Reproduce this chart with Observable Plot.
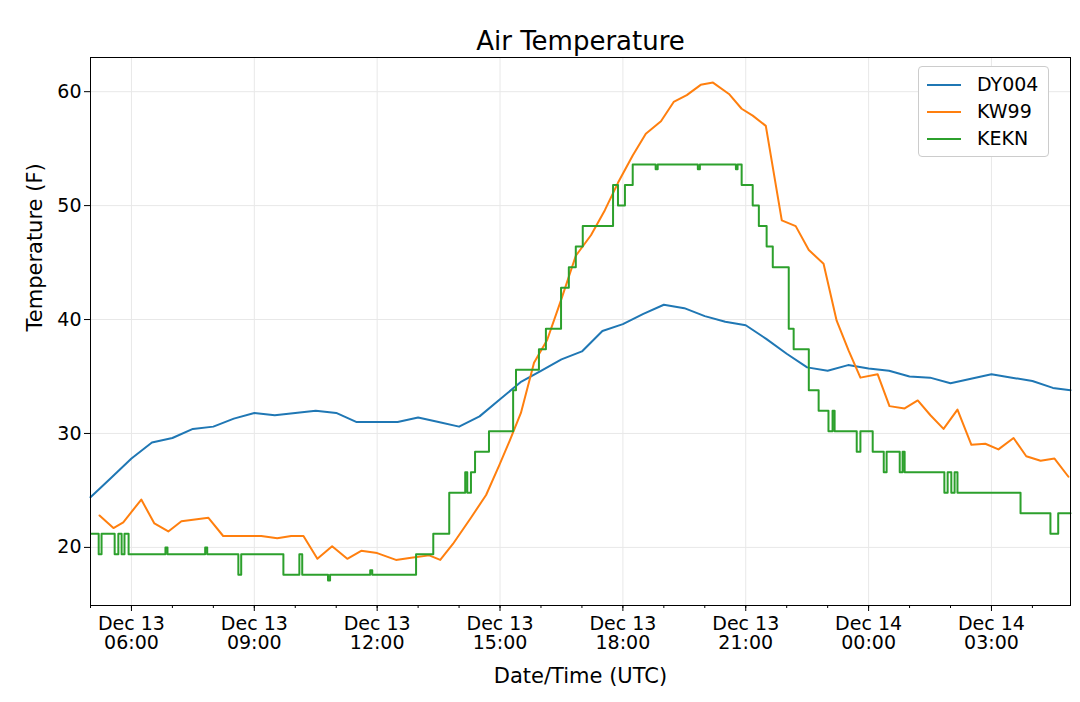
<!DOCTYPE html>
<html><head><meta charset="utf-8">
<script src="https://cdn.jsdelivr.net/npm/d3@7"></script>
<script src="https://cdn.jsdelivr.net/npm/@observablehq/plot@0.6"></script>
<style>body{margin:0;background:#fff;font-family:"DejaVu Sans",sans-serif}#wrap{position:relative;width:1080px;height:702px}
#legend{position:absolute;left:918px;top:66px;border:1px solid #ccc;border-radius:4px;background:#fff;padding:4px 10px 4px 8px;font-size:19px;line-height:27px}
#legend div{display:flex;align-items:center}#legend span.sw{display:inline-block;width:34px;height:2px;margin-right:16px}</style>
</head><body><div id="wrap"><div id="legend"></div></div>
<script>
const series = ["DY004","KW99","KEKN"];
const colors = ["#1f77b4","#ff7f0e","#2ca02c"];
// hours since Dec 13 00:00 UTC
const dyHours = [5.0,5.5,6.0,6.5,7.0,7.5,8.0,8.5,9.0,9.5,10.0,10.5,11.0,11.5,12.0,12.5,13.0,13.5,14.0,14.5,15.0,15.5,16.0,16.5,17.0,17.5,18.0,18.5,19.0,19.5,20.0,20.5,21.0,21.5,22.0,22.5,23.0,23.5,24.0,24.5,25.0,25.5,26.0,26.5,27.0,27.5,28.0,28.5,28.93];
const dyTemp = [24.4,26.1,27.8,29.2,29.6,30.4,30.6,31.3,31.8,31.6,31.8,32.0,31.8,31.0,31.0,31.0,31.4,31.0,30.6,31.5,33.0,34.5,35.5,36.5,37.2,39.0,39.6,40.5,41.3,41.0,40.3,39.8,39.5,38.3,37.0,35.8,35.5,36.0,35.7,35.5,35.0,34.9,34.4,34.8,35.2,34.9,34.6,34.0,33.8];
const kwHours = [5.22,5.56,5.80,6.24,6.56,6.90,7.22,7.88,8.24,9.17,9.56,9.90,10.20,10.54,10.90,11.27,11.61,12.0,12.46,12.83,13.27,13.54,13.85,14.29,14.66,14.98,15.24,15.51,15.83,16.15,16.49,16.85,17.22,17.56,17.88,18.24,18.56,18.93,19.24,19.56,19.90,20.20,20.59,20.90,21.17,21.49,21.88,22.22,22.54,22.90,23.22,23.51,23.80,24.22,24.51,24.88,25.20,25.51,25.83,26.17,26.51,26.85,27.17,27.54,27.85,28.20,28.54,28.88];
const kwTemp = [22.8,21.7,22.2,24.2,22.1,21.4,22.3,22.6,21.0,21.0,20.8,21.0,21.0,19.0,20.1,19.0,19.7,19.5,18.9,19.1,19.3,18.9,20.3,22.6,24.6,27.2,29.4,31.8,36.2,38.2,41.7,45.6,47.4,49.6,52.0,54.4,56.3,57.4,59.1,59.7,60.6,60.8,59.8,58.5,57.9,57.0,48.7,48.2,46.1,44.9,39.9,37.3,34.9,35.2,32.4,32.2,32.9,31.6,30.4,32.1,29.0,29.1,28.6,29.6,28.0,27.6,27.8,26.2];
const keHours = [5.02,5.2,5.27,5.59,5.68,5.76,5.83,5.93,6.83,6.88,7.80,7.85,8.61,8.68,9.71,10.10,10.17,10.80,10.85,11.83,11.88,12.95,13.37,13.76,14.15,14.20,14.29,14.39,14.73,15.32,15.39,15.95,16.12,16.49,16.68,16.85,17.02,17.76,17.88,18.05,18.24,18.8,18.85,19.83,19.88,20.76,20.80,20.90,21.17,21.32,21.51,21.66,22.05,22.17,22.54,22.78,23.02,23.12,23.17,23.71,23.80,24.10,24.37,24.44,24.76,24.83,24.88,25.85,25.93,26.02,26.10,26.17,27.71,28.44,28.63,28.93];
const keTemp = [21.2,19.4,21.2,19.4,21.2,19.4,21.2,19.4,20.0,19.4,20.0,19.4,17.6,19.4,17.6,19.4,17.6,17.1,17.6,18.0,17.6,19.4,21.2,24.8,26.6,24.8,26.6,28.4,30.2,33.8,35.6,37.4,39.2,42.8,44.6,46.4,48.2,51.8,50.0,51.8,53.6,53.2,53.6,53.2,53.6,53.2,53.6,51.8,50.0,48.2,46.4,44.6,39.2,37.4,33.8,32.0,30.2,32.0,30.2,28.4,30.2,28.4,26.6,28.4,26.6,28.4,26.6,24.8,26.6,24.8,26.6,24.8,23.0,21.2,23.0,23.0];
const yTicks = [20,30,40,50,60];
const base = Date.UTC(2018,11,13);
const t = h => new Date(base + h*3600e3);
const mk = (hs, vs, s) => hs.map((h,i)=>({time:t(h), temp:vs[i], s}));
const dy = mk(dyHours,dyTemp,"DY004"), kw = mk(kwHours,kwTemp,"KW99"), ke = mk(keHours,keTemp,"KEKN");
const major = d3.range(6,30,3).map(t);
const minor = d3.range(5,29).map(t);
const fmt = d => `Dec ${d.getUTCDate()}\n${d3.utcFormat("%H:%M")(d)}`;
const plot = Plot.plot({
  width:1080, height:702, marginLeft:90, marginRight:10, marginTop:57, marginBottom:97,
  style:{fontFamily:"DejaVu Sans, sans-serif", fontSize:"18px", color:"#000"},
  x:{type:"utc", domain:[t(5.0), t(28.93)]},
  y:{domain:[14.9,63]},
  marks:[
    Plot.gridX(major,{stroke:"#e8e8e8", strokeOpacity:1}),
    Plot.gridY(yTicks,{stroke:"#e8e8e8", strokeOpacity:1}),
    Plot.axisX({ticks:minor, tickSize:3, text:null, label:null}),
    Plot.axisX({ticks:major, tickSize:6, tickFormat:fmt, label:null, fontSize:19, tickPadding:5}),
    Plot.axisY({ticks:yTicks, tickSize:6, label:null, fontSize:19}),
    Plot.line(dy,{x:"time", y:"temp", stroke:colors[0], strokeWidth:2}),
    Plot.line(kw,{x:"time", y:"temp", stroke:colors[1], strokeWidth:2}),
    Plot.line(ke,{x:"time", y:"temp", stroke:colors[2], strokeWidth:2, curve:"step-after"}),
    Plot.frame({stroke:"#000"}),
    Plot.text(["Air Temperature"],{frameAnchor:"top", dy:-8, fontSize:26, lineAnchor:"bottom"}),
    Plot.text(["Date/Time (UTC)"],{frameAnchor:"bottom", dy:77, fontSize:21}),
    Plot.text(["Temperature (F)"],{frameAnchor:"left", dx:-55, rotate:-90, fontSize:21})
  ]
});
document.getElementById("wrap").prepend(plot);
document.getElementById("legend").innerHTML = series.map((s,i)=>`<div><span class="sw" style="background:${colors[i]}"></span>${s}</div>`).join("");
</script></body></html>
